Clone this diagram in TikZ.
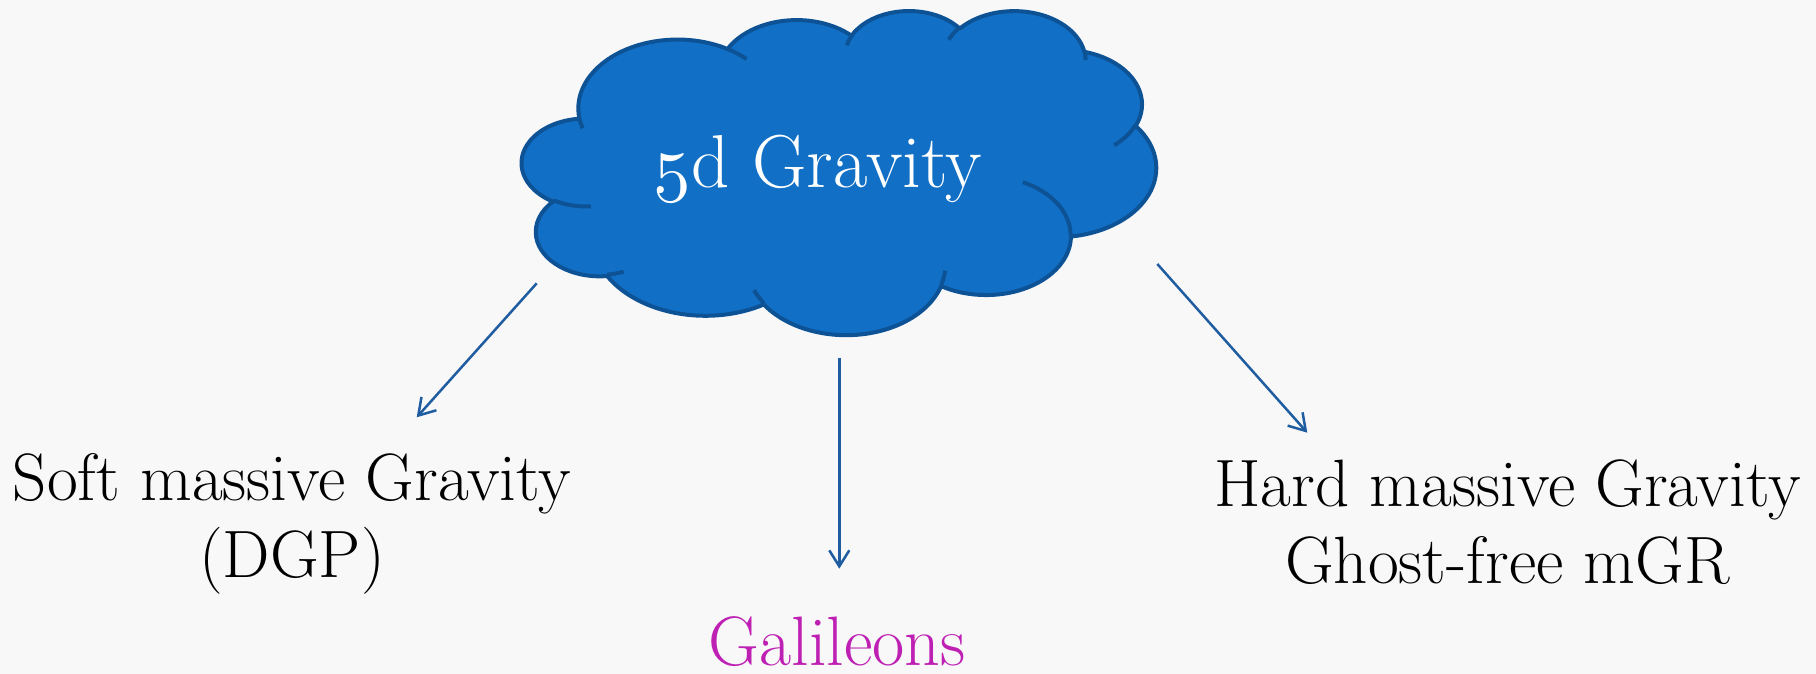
\documentclass[tikz,border=0pt]{standalone}
\usetikzlibrary{arrows.meta}
\definecolor{bgc}{RGB}{248,248,248}
\definecolor{cloudfill}{RGB}{17,112,197}
\definecolor{cloudline}{RGB}{14,82,150}
\definecolor{arrowc}{RGB}{31,92,160}
\definecolor{galc}{RGB}{190,32,180}
% scalable old-style figures from Computer Modern math italic
\DeclareFontFamily{OML}{myosf}{\skewchar\font127 }
\DeclareFontShape{OML}{myosf}{m}{it}{<-> cmmi10}{}
\newcommand\osf[1]{{\usefont{OML}{myosf}{m}{it}#1}}
% OOXML-style arc: x radius, y radius, visual start angle, sweep
\newcommand\carc[4]{arc[start angle={atan2(#1*sin(#3),#2*cos(#3))},
  delta angle={mod(atan2(#1*sin(#3+#4),#2*cos(#3+#4))-atan2(#1*sin(#3),#2*cos(#3))+720,360)},
  x radius=#1, y radius=#2]}
\tikzset{
  cloudbody/.style={fill=cloudfill, draw=cloudline, line width=4pt, line join=round},
  cloudmark/.style={draw=cloudline, line width=4pt, line cap=butt},
  lbl/.style={font=\fontsize{67}{77}\selectfont, align=center, inner sep=0pt, text=black},
  gal/.style={font=\fontsize{70}{84}\selectfont, inner sep=0pt, text=galc},
  cloudtext/.style={font=\fontsize{75}{90}\selectfont, inner sep=0pt, text=white},
  arr/.style={draw=arrowc, line width=2.5pt, -{Straight Barb[length=16pt,width=20pt]}}
}
\begin{document}
\begin{tikzpicture}[x=1pt,y=-1pt]
\useasboundingbox (0,0) rectangle (1816,674);
\fill[bgc] (0,0) rectangle (1816,674);
% cloud shape
\begin{scope}[shift={(522,10)}, x=1.46759pt, y=-0.75pt]
\path[cloudbody] (39.00,143.70)
  \carc{67.53}{91.90}{-190.4875}{123.7805}
  \carc{53.33}{72.67}{-144.1024}{89.9452}
  \carc{43.65}{59.45}{-145.8079}{99.7230}
  \carc{48.57}{65.95}{-130.9861}{117.2417}
  \carc{53.33}{72.73}{-78.7089}{109.0269}
  \carc{67.75}{92.20}{-46.2673}{130.2690}
  \carc{57.85}{78.67}{0.6250}{114.0333}
  \carc{67.52}{92.15}{22.4516}{115.1726}
  \carc{77.20}{105.43}{66.2426}{75.7110}
  \carc{43.60}{59.18}{-274.9421}{146.7356}
  \carc{43.45}{59.45}{-246.8285}{152.5189}
  -- cycle;
\path[cloudmark]
  (46.93,261.77) \carc{43.45}{59.45}{86.742}{26.4295}
  (69.28,348.99) \carc{43.60}{59.18}{73.6105}{11.4475}
  (164.78,390.90) \carc{67.52}{92.15}{137.6242}{14.0811}
  (288.27,347.51) \carc{67.52}{92.15}{6.4533}{15.9984}
  (341.29,229.54) \carc{57.85}{78.67}{-70.2924}{70.9174}
  (417.98,153.54) \carc{53.33}{72.73}{30.3180}{27.7515}
  (383.24,54.26) \carc{48.57}{65.95}{-13.7443}{14.8589}
  (290.78,39.52) \carc{48.57}{65.95}{-149.1815}{18.1954}
  (221.41,47.20) \carc{43.65}{59.45}{-163.4943}{17.6864}
  (140.00,51.92) \carc{67.53}{91.90}{-66.7070}{12.3194}
  (41.27,157.89) \carc{67.53}{91.90}{157.6544}{11.8582};
\end{scope}
\node[cloudtext, anchor=base] (top) at (818,187) {\osf{5}d Gravity};
% labels (base anchor = baseline of last line)
\node[lbl, anchor=base] (soft) at (292,577) {Soft massive Gravity\\(DGP)};
\node[lbl, anchor=base] (hard) at (1507.5,583) {Hard massive Gravity\\Ghost-free mGR};
\node[gal, anchor=base] (gal) at (837,665) {Galileons};
% arrows
\coordinate (s1) at (536.7,283.3);
\coordinate (e1) at (416.7,417.3);
\coordinate (s2) at (839.3,358.3);
\coordinate (e2) at (839.3,568.7);
\coordinate (s3) at (1157.3,264);
\coordinate (e3) at (1307.3,432.7);
\draw[arr] (s1) -- (e1);
\draw[arr] (s2) -- (e2);
\draw[arr] (s3) -- (e3);
\end{tikzpicture}
\end{document}
